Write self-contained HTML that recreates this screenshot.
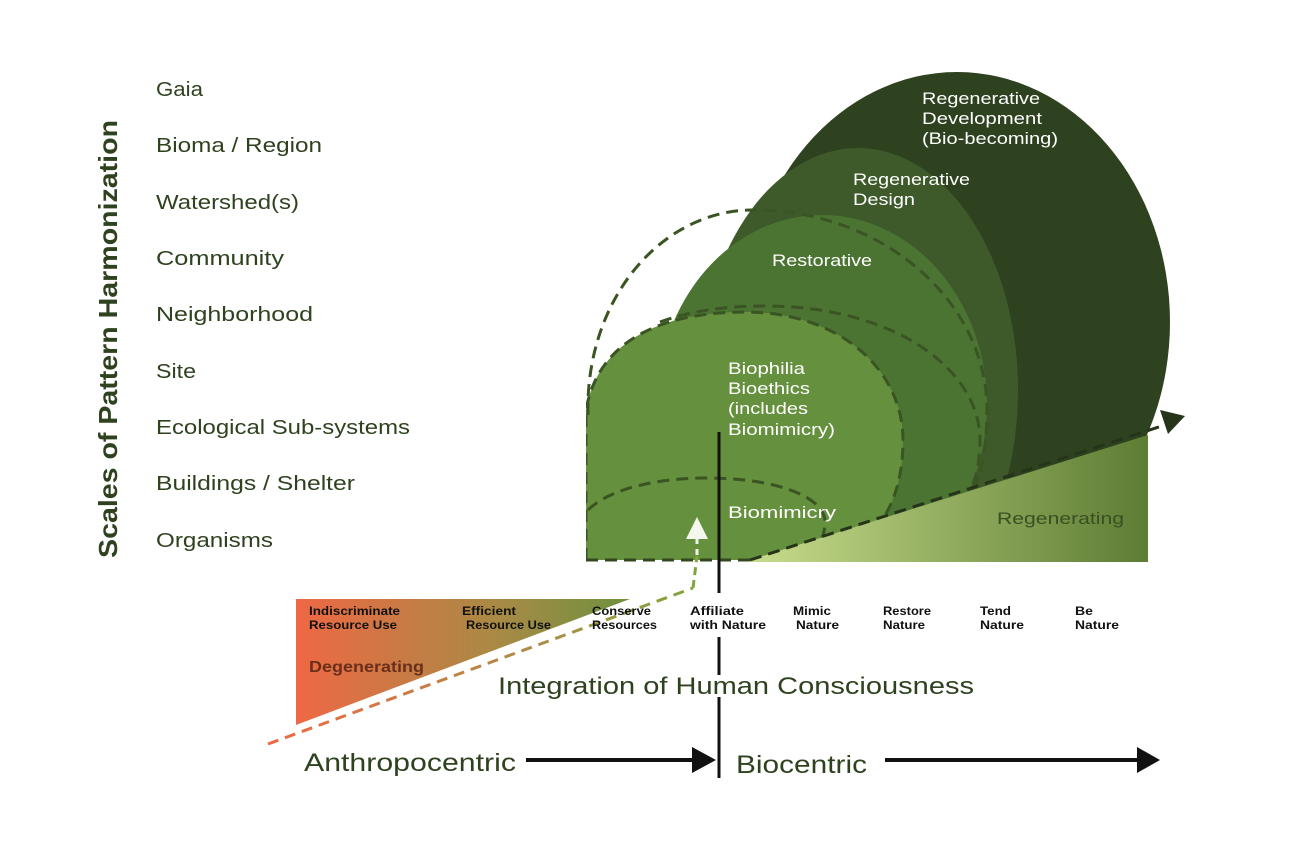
<!DOCTYPE html>
<html><head><meta charset="utf-8"><style>
body{margin:0;background:#fff}
svg{display:block}
text{font-family:"Liberation Sans",sans-serif}
</style></head><body>
<svg width="1305" height="865" viewBox="0 0 1305 865">
<defs>
<linearGradient id="g1" x1="0" x2="1"><stop offset="0" stop-color="#c8dc8c"/><stop offset="1" stop-color="#5d7d33"/></linearGradient>
<linearGradient id="g2" x1="0" x2="1"><stop offset="0" stop-color="#ee6844"/><stop offset="0.6" stop-color="#a98a45"/><stop offset="1" stop-color="#6d913e"/></linearGradient>
<linearGradient id="g3" gradientUnits="userSpaceOnUse" x1="268" y1="0" x2="693" y2="0"><stop offset="0" stop-color="#ee6844"/><stop offset="0.6" stop-color="#b08a45"/><stop offset="1" stop-color="#7fa53e"/></linearGradient>
<clipPath id="c"><polygon points="586,0 1305,0 1305,425 750,560 586,560"/></clipPath>
</defs>
<g clip-path="url(#c)">
<ellipse cx="957" cy="322" rx="213" ry="250" fill="#2f421f"/>
<ellipse cx="858" cy="390" rx="160" ry="242" fill="#3e5a2a"/>
<ellipse cx="822" cy="405" rx="165" ry="190" fill="#4b7433"/>
<path d="M586,560 L586,410 C600,330 680,312 745,312 C840,312 903,370 903,440 C903,520 860,560 800,560 Z" fill="#65903d"/>
<path d="M588,415 C585,300 660,212 750,210 C880,208 987,300 987,410 C987,450 980,480 970,500" fill="none" stroke="#3a5423" stroke-width="3" stroke-dasharray="12,7"/>
<path d="M660,322 C690,311 725,306 765,306 C895,306 980,370 980,440 C980,470 972,490 965,500" fill="none" stroke="#3a5423" stroke-width="3" stroke-dasharray="12,7"/>
<path d="M586,560 L586,410 C600,330 680,312 745,312 C840,312 903,370 903,440 C903,520 860,560 800,560" fill="none" stroke="#3a5423" stroke-width="3" stroke-dasharray="12,7"/>
<path d="M588,510 C610,488 660,478 705,478 C780,478 825,498 825,522 C825,540 815,552 805,560" fill="none" stroke="#3a5423" stroke-width="3" stroke-dasharray="12,7"/>
</g>
<polygon points="750,560 1148,435 1148,562 750,562" fill="url(#g1)"/>
<line x1="586" y1="560" x2="750" y2="560" stroke="#34481f" stroke-width="3" stroke-dasharray="12,7"/>
<line x1="750" y1="560" x2="1165" y2="425" stroke="#26341a" stroke-width="3" stroke-dasharray="12,7"/>
<polygon points="1185,416 1160,410 1168,434" fill="#26341a"/>
<polygon points="296,599 630,599 296,725" fill="url(#g2)"/>
<polyline points="268,744 693,588" fill="none" stroke="url(#g3)" stroke-width="3" stroke-dasharray="11,7"/>
<line x1="693" y1="588" x2="697" y2="556" stroke="#7fa53e" stroke-width="3" stroke-dasharray="8,5"/>
<line x1="697" y1="555" x2="697" y2="538" stroke="#eef3e4" stroke-width="3" stroke-dasharray="6,5"/>
<polygon points="697,517 686,539 708,539" fill="#f5f7ef"/>
<line x1="719" y1="432" x2="719" y2="593" stroke="#111" stroke-width="3"/>
<line x1="719" y1="637" x2="719" y2="675" stroke="#111" stroke-width="3"/>
<line x1="719" y1="697" x2="719" y2="778" stroke="#111" stroke-width="3"/>
<g font-size="20" fill="#2f421f">
<text x="156" y="96" textLength="47" lengthAdjust="spacingAndGlyphs">Gaia</text>
<text x="156" y="152" textLength="166" lengthAdjust="spacingAndGlyphs">Bioma / Region</text>
<text x="156" y="209" textLength="143" lengthAdjust="spacingAndGlyphs">Watershed(s)</text>
<text x="156" y="265" textLength="128" lengthAdjust="spacingAndGlyphs">Community</text>
<text x="156" y="321" textLength="157" lengthAdjust="spacingAndGlyphs">Neighborhood</text>
<text x="156" y="378" textLength="40" lengthAdjust="spacingAndGlyphs">Site</text>
<text x="156" y="434" textLength="254" lengthAdjust="spacingAndGlyphs">Ecological Sub-systems</text>
<text x="156" y="490" textLength="199" lengthAdjust="spacingAndGlyphs">Buildings / Shelter</text>
<text x="156" y="547" textLength="117" lengthAdjust="spacingAndGlyphs">Organisms</text>
</g>
<text transform="translate(117,339) rotate(-90)" text-anchor="middle" font-size="26" font-weight="bold" fill="#2f421f" textLength="438" lengthAdjust="spacingAndGlyphs">Scales of Pattern Harmonization</text>
<g font-size="17" fill="#fff">
<text x="922" y="104" textLength="118" lengthAdjust="spacingAndGlyphs">Regenerative</text>
<text x="922" y="124" textLength="120" lengthAdjust="spacingAndGlyphs">Development</text>
<text x="922" y="144" textLength="136" lengthAdjust="spacingAndGlyphs">(Bio-becoming)</text>
<text x="853" y="185" textLength="117" lengthAdjust="spacingAndGlyphs">Regenerative</text>
<text x="853" y="205" textLength="62" lengthAdjust="spacingAndGlyphs">Design</text>
<text x="772" y="266" textLength="100" lengthAdjust="spacingAndGlyphs">Restorative</text>
<text x="728" y="374" textLength="77" lengthAdjust="spacingAndGlyphs">Biophilia</text>
<text x="728" y="394" textLength="82" lengthAdjust="spacingAndGlyphs">Bioethics</text>
<text x="728" y="414" textLength="80" lengthAdjust="spacingAndGlyphs">(includes</text>
<text x="728" y="435" textLength="107" lengthAdjust="spacingAndGlyphs">Biomimicry)</text>
<text x="728" y="518" textLength="108" lengthAdjust="spacingAndGlyphs">Biomimicry</text>
</g>
<text x="997" y="524" font-size="17" fill="#3a4f22" textLength="127" lengthAdjust="spacingAndGlyphs">Regenerating</text>
<g font-size="12" font-weight="bold" fill="#111">
<text x="309" y="615" textLength="91" lengthAdjust="spacingAndGlyphs">Indiscriminate</text><text x="309" y="629" textLength="88" lengthAdjust="spacingAndGlyphs">Resource  Use</text>
<text x="462" y="615" textLength="54" lengthAdjust="spacingAndGlyphs">Efficient</text><text x="466" y="629" textLength="85" lengthAdjust="spacingAndGlyphs">Resource Use</text>
<text x="592" y="615" textLength="59" lengthAdjust="spacingAndGlyphs">Conserve</text><text x="592" y="629" textLength="65" lengthAdjust="spacingAndGlyphs">Resources</text>
<text x="690" y="615" textLength="54" lengthAdjust="spacingAndGlyphs">Affiliate</text><text x="690" y="629" textLength="76" lengthAdjust="spacingAndGlyphs">with Nature</text>
<text x="793" y="615" textLength="38" lengthAdjust="spacingAndGlyphs">Mimic</text><text x="796" y="629" textLength="43" lengthAdjust="spacingAndGlyphs">Nature</text>
<text x="883" y="615" textLength="48" lengthAdjust="spacingAndGlyphs">Restore</text><text x="883" y="629" textLength="42" lengthAdjust="spacingAndGlyphs">Nature</text>
<text x="980" y="615" textLength="31" lengthAdjust="spacingAndGlyphs">Tend</text><text x="980" y="629" textLength="44" lengthAdjust="spacingAndGlyphs">Nature</text>
<text x="1075" y="615" textLength="18" lengthAdjust="spacingAndGlyphs">Be</text><text x="1075" y="629" textLength="44" lengthAdjust="spacingAndGlyphs">Nature</text>
</g>
<text x="309" y="672" font-size="16" font-weight="bold" fill="#6a2f1a" textLength="115" lengthAdjust="spacingAndGlyphs">Degenerating</text>
<text x="498" y="694" font-size="24" fill="#2f421f" textLength="476" lengthAdjust="spacingAndGlyphs">Integration of Human Consciousness</text>
<text x="304" y="771" font-size="25" fill="#2f421f" textLength="212" lengthAdjust="spacingAndGlyphs">Anthropocentric</text>
<text x="736" y="773" font-size="25" fill="#2f421f" textLength="131" lengthAdjust="spacingAndGlyphs">Biocentric</text>
<line x1="526" y1="760" x2="695" y2="760" stroke="#111" stroke-width="4"/>
<polygon points="716,760 692,747 692,773" fill="#111"/>
<line x1="885" y1="760" x2="1140" y2="760" stroke="#111" stroke-width="4"/>
<polygon points="1160,760 1137,747 1137,773" fill="#111"/>
</svg>
</body></html>
